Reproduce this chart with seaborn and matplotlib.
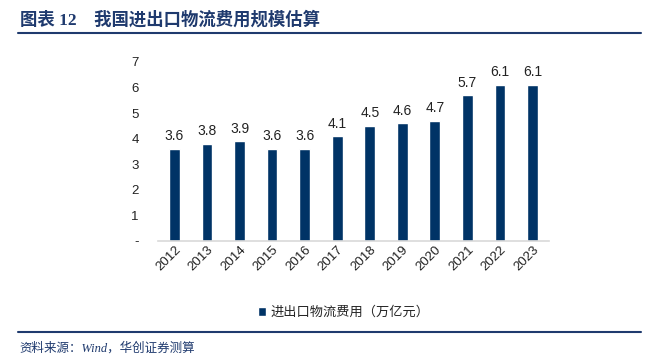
import matplotlib
matplotlib.use("Agg")
import matplotlib.pyplot as plt
import seaborn as sns
import pandas as pd

years = ["2012", "2013", "2014", "2015", "2016", "2017", "2018", "2019", "2020", "2021", "2022", "2023"]
values = [3.6, 3.8, 3.9, 3.6, 3.6, 4.1, 4.5, 4.6, 4.7, 5.7, 6.1, 6.1]
series_name = "进出口物流费用（万亿元）"
yticks = [0, 1, 2, 3, 4, 5, 6, 7]
ytick_labels = ["-", "1", "2", "3", "4", "5", "6", "7"]

sns.set_theme(style="white")
plt.rcParams['font.family'] = ['Liberation Sans', 'Noto Sans CJK SC', 'DejaVu Sans']

df = pd.DataFrame({"year": years, "value": values, "series": series_name})

fig = plt.figure(figsize=(6.51, 3.58), dpi=100)
ax = fig.add_axes([0.243, 0.327, 0.6, 0.5])

bar_color = "#003366"
sns.barplot(data=df, x="year", y="value", hue="series", palette=[bar_color],
            width=0.33, ax=ax, saturation=1, legend=True)

ax.set_ylim(0, 7)
ax.set_yticks(yticks)
ax.set_yticklabels(ytick_labels, fontsize=9.5, color="#222222")
ax.set_xlabel("")
ax.set_ylabel("")
ax.tick_params(axis="x", rotation=45, labelsize=9.5, colors="#222222", length=0, pad=2)
ax.tick_params(axis="y", length=0, pad=14)
for lbl in ax.get_xticklabels():
    lbl.set_ha("right")
    lbl.set_rotation_mode("anchor")

for s in ["top", "right", "left"]:
    ax.spines[s].set_visible(False)
ax.spines["bottom"].set_color("#d9d9d9")
ax.spines["bottom"].set_linewidth(1.2)

for c in ax.containers:
    ax.bar_label(c, labels=[f"{v:.1f}" for v in values], padding=4, fontsize=10, color="#222222")

leg = ax.legend(loc="upper center", bbox_to_anchor=(0.475, -0.3), frameon=False,
                fontsize=9.5, handlelength=0.6, handleheight=0.6, handletextpad=0.3)

title_color = "#1F3A6E"
fig.text(0.03, 0.945, "图表 12    我国进出口物流费用规模估算", fontsize=12.5, fontweight="bold",
         family=['Liberation Serif', 'Noto Sans CJK SC'],
         color=title_color, va="center", ha="left")
fig.add_artist(plt.Line2D([0.028, 0.985], [0.908, 0.908], color=title_color, linewidth=1.5))
fig.add_artist(plt.Line2D([0.028, 0.985], [0.073, 0.073], color=title_color, linewidth=1.5))
fig.text(0.03, 0.028, "资料来源：Wind，华创证券测算", fontsize=9, fontstyle="italic",
         family=['Liberation Serif', 'Noto Sans CJK SC'],
         color="#1F3A6E", va="center", ha="left")

fig.savefig("out.png", dpi=100)
